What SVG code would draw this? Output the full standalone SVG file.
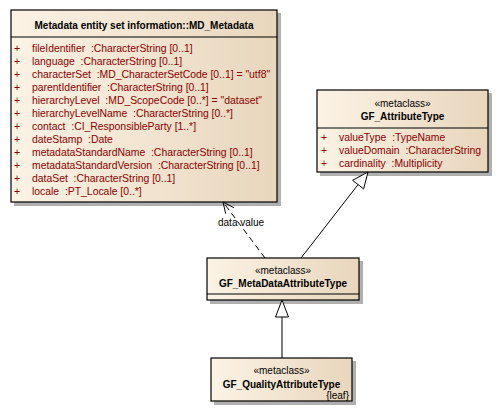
<svg xmlns="http://www.w3.org/2000/svg" width="499" height="412" viewBox="0 0 499 412">
<defs>
<linearGradient id="fill" x1="0" y1="0" x2="1" y2="0">
<stop offset="0" stop-color="#FCF3E5"/>
<stop offset="1" stop-color="#E8D6BC"/>
</linearGradient>
<style>
text{font-family:"Liberation Sans",Arial,sans-serif;font-size:10px;white-space:pre}
.title{font-weight:bold;text-anchor:middle;fill:#000}
.st{text-anchor:middle;fill:#000}
.attr text{fill:#8B0000;font-size:10.4px}
.box{fill:url(#fill);stroke:#000;stroke-width:1.2}
.shadow{fill:#B0B0B0}
.div{stroke:#000;stroke-width:1.2}
.conn{stroke:#000;stroke-width:1;fill:none}
</style>
</defs>
<rect width="499" height="412" fill="#fff"/>
<g id="md_metadata">
<rect class="shadow" x="14" y="13" width="267" height="193"/>
<rect class="box" x="11" y="10" width="266" height="192"/>
<line class="div" x1="11" y1="37" x2="277" y2="37"/>
<text class="title" x="144" y="29">Metadata entity set information::MD_Metadata</text>
<g class="attr">
<text x="14" y="51.5">+</text><text x="32" y="51.5">fileIdentifier  :CharacterString [0..1]</text>
<text x="14" y="64.5">+</text><text x="32" y="64.5">language  :CharacterString [0..1]</text>
<text x="14" y="77.5">+</text><text x="32" y="77.5">characterSet  :MD_CharacterSetCode [0..1] = "utf8"</text>
<text x="14" y="90.5">+</text><text x="32" y="90.5">parentIdentifier  :CharacterString [0..1]</text>
<text x="14" y="103.5">+</text><text x="32" y="103.5">hierarchyLevel  :MD_ScopeCode [0..*] = "dataset"</text>
<text x="14" y="116.5">+</text><text x="32" y="116.5">hierarchyLevelName  :CharacterString [0..*]</text>
<text x="14" y="129.5">+</text><text x="32" y="129.5">contact  :CI_ResponsibleParty [1..*]</text>
<text x="14" y="142.5">+</text><text x="32" y="142.5">dateStamp  :Date</text>
<text x="14" y="155.5">+</text><text x="32" y="155.5">metadataStandardName  :CharacterString [0..1]</text>
<text x="14" y="168.5">+</text><text x="32" y="168.5">metadataStandardVersion  :CharacterString [0..1]</text>
<text x="14" y="181.5">+</text><text x="32" y="181.5">dataSet  :CharacterString [0..1]</text>
<text x="14" y="194.5">+</text><text x="32" y="194.5">locale  :PT_Locale [0..*]</text>
</g>
</g>
<g id="gf_attributetype">
<rect class="shadow" x="320" y="93" width="172" height="83"/>
<rect class="box" x="317" y="90" width="171" height="82"/>
<line class="div" x1="317" y1="128" x2="488" y2="128"/>
<text class="st" x="402.5" y="107">«metaclass»</text>
<text class="title" x="402.5" y="120">GF_AttributeType</text>
<g class="attr">
<text x="321" y="141">+</text><text x="339" y="141">valueType  :TypeName</text>
<text x="321" y="154">+</text><text x="339" y="154">valueDomain  :CharacterString</text>
<text x="321" y="167">+</text><text x="339" y="167">cardinality  :Multiplicity</text>
</g>
</g>
<g id="gf_metadataattributetype">
<rect class="shadow" x="210" y="261" width="153" height="43"/>
<rect class="box" x="207" y="258" width="152" height="42"/>
<line class="div" x1="207" y1="294" x2="359" y2="294"/>
<text class="st" x="283" y="273.5">«metaclass»</text>
<text class="title" x="283" y="286.5">GF_MetaDataAttributeType</text>
</g>
<g id="gf_qualityattributetype">
<rect class="shadow" x="214" y="361" width="142" height="44"/>
<rect class="box" x="211" y="358" width="141" height="43"/>
<text class="st" x="281.5" y="374">«metaclass»</text>
<text class="title" x="281.5" y="388">GF_QualityAttributeType</text>
<text x="349" y="399" style="text-anchor:end">{leaf}</text>
</g>
<g id="connectors">
<line class="conn" x1="265" y1="258" x2="223" y2="202" stroke-dasharray="6,4"/>
<path class="conn" d="M233.7,207.7 L223,202 L225.7,213.7"/>
<text x="218" y="226">data value</text>
<line class="conn" x1="301" y1="258" x2="358.1" y2="184.6"/>
<polygon class="conn" style="fill:#fff" points="368,172 363.6,188.9 352.6,180.3"/>
<line class="conn" x1="282" y1="358" x2="282" y2="317"/>
<polygon class="conn" style="fill:#fff" points="282,300 275.5,317 288.5,317"/>
</g>
</svg>
